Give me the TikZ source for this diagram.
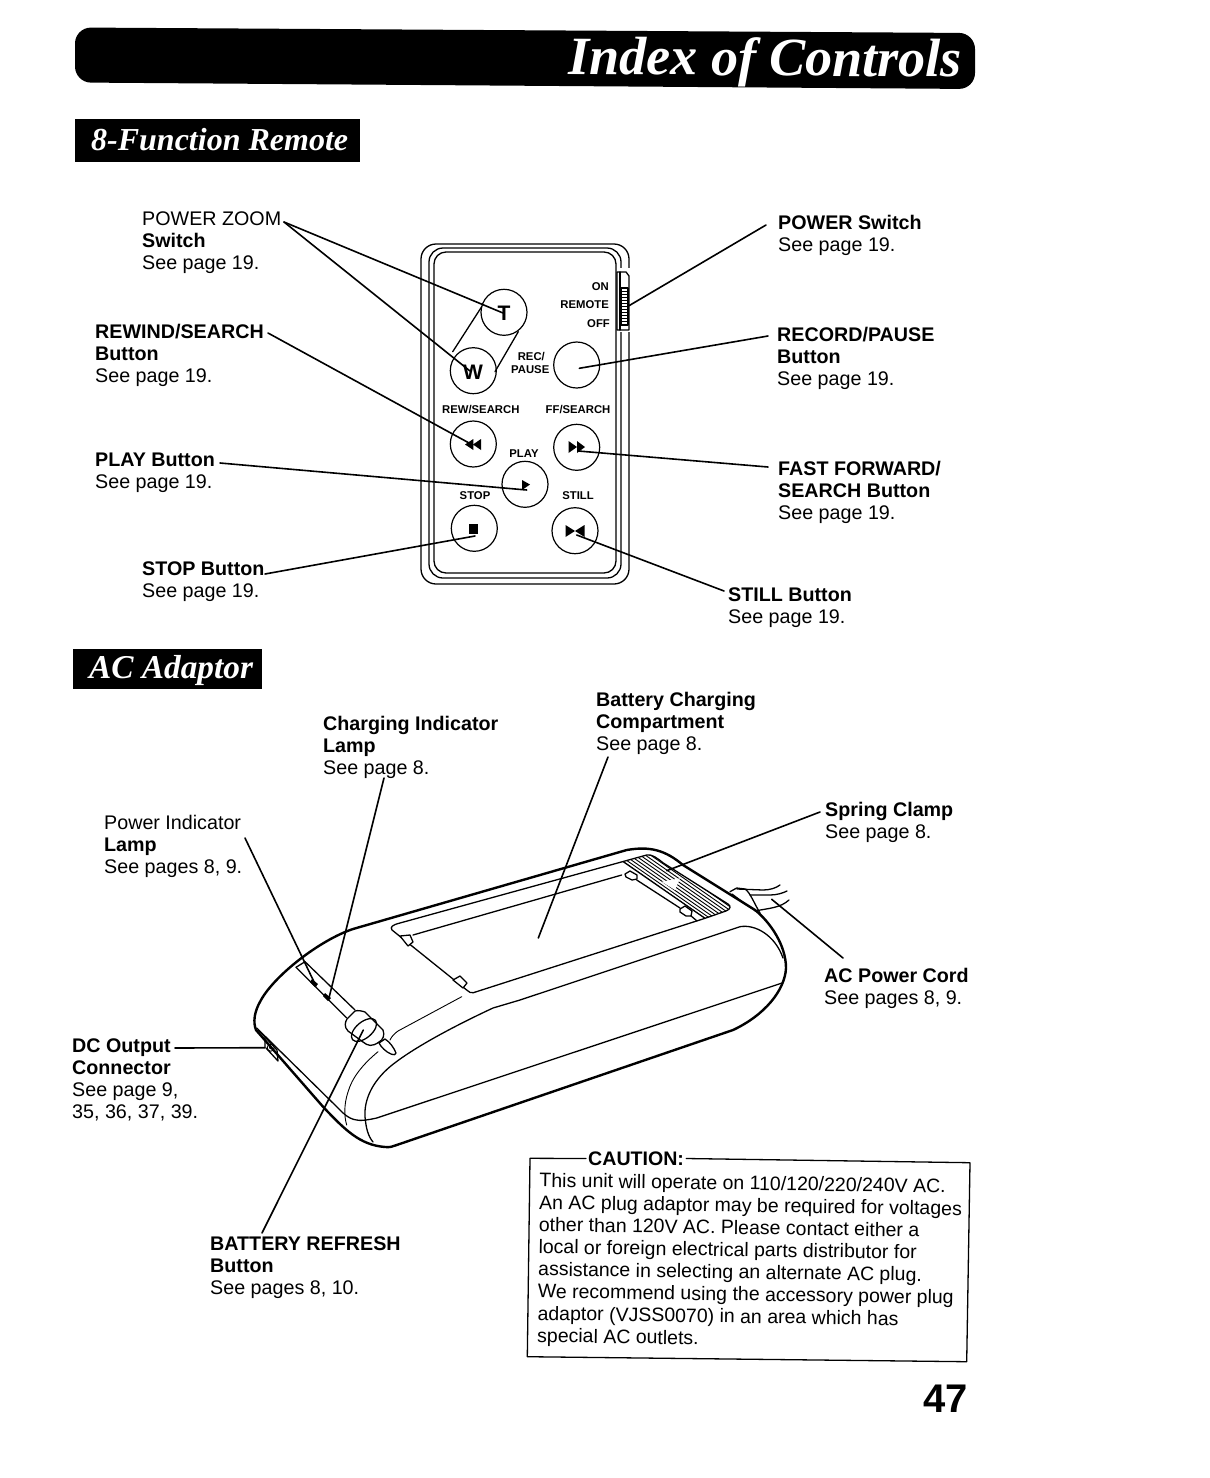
\documentclass[tikz,border=0pt]{standalone}
\usepackage{fontspec}
\setmainfont{Liberation Sans}
\newfontfamily\titlefont{Liberation Serif}
\tikzset{
  lbl/.style={anchor=north west,inner sep=0pt,align=left,font=\fontsize{19.7}{22}\selectfont},
  small/.style={inner sep=0pt,font=\fontsize{11.3}{13}\selectfont\bfseries},
  btn/.style={circle,draw,line width=1.2pt,minimum size=46pt,inner sep=0pt},
  glyph/.style={font=\fontsize{21}{21}\selectfont\bfseries},
  leader/.style={line width=1.6pt},
  thickl/.style={line width=2.4pt},
  thinl/.style={line width=1.3pt},
  faint/.style={line width=0.9pt},
  icon/.style={fill=black,draw=none},
  banner/.style={fill=black,draw=none},
  bannertext/.style={text=white,inner sep=0pt,font=\titlefont\fontsize{32}{32}\selectfont\bfseries\itshape}
}
\newcommand{\bb}[1]{\textbf{#1}}
\begin{document}
\begin{tikzpicture}[x=1pt,y=-1pt,line cap=round,line join=round]
\useasboundingbox (0,0) rectangle (1210,1478);
% headings
\fill[banner,rounded corners=16pt] (75,27.5) -- (975,33) -- (975,89) -- (75,82.5) -- cycle;
\node[bannertext,font=\titlefont\fontsize{54}{54}\selectfont\bfseries\itshape,rotate=-0.4,anchor=base east] (title) at (962,77) {Index of Controls};
\fill[banner] (75,119) rectangle (360,162);
\node[bannertext,anchor=base west] (sec1) at (91,150) {8-Function Remote};
\fill[banner] (73,649) rectangle (262,689);
\node[bannertext,font=\titlefont\fontsize{33.3}{33.3}\selectfont\bfseries\itshape,anchor=base west] (sec2) at (89,678) {AC Adaptor};
% remote body
\draw[thinl,rounded corners=15pt] (421,244) rectangle (629,584);
\draw[thinl,rounded corners=14pt] (429,248) rectangle (621,578);
\draw[thinl,rounded corners=12pt] (434,252) rectangle (616,573);
\fill[white] (617,268) rectangle (630,332);
\draw[thinl] (617,272) -- (626,272) -- (629,276) -- (629,330) -- (617,330) -- cycle;
\draw[thinl] (620,272) -- (620,330);
\draw[thinl] (621,288) rectangle (628,325);
\foreach \yy in {291,294,...,324}{\draw[line width=0.9pt] (621,\yy) -- (628,\yy);}
\node[btn] (bT) at (504,312.3) {};
\node[btn] (bW) at (473.3,370.7) {};
\node[btn] (bRec) at (576.7,365) {};
\node[btn] (bRew) at (473.3,444) {};
\node[btn] (bFF) at (576.7,447.3) {};
\node[btn] (bPlay) at (525,484.3) {};
\node[btn] (bStop) at (474.3,528.3) {};
\node[btn] (bStill) at (575,530.7) {};
\draw[thinl] (481.7,306.7) -- (452.7,351.7);
\draw[thinl] (518.3,331.7) -- (495,371.7);
\node[glyph] (gT) at (504,313) {T};
\node[glyph] (gW) at (473,372) {W};
\fill[icon] (465,444.5) -- (473.3,439) -- (473.3,450) -- cycle;
\fill[icon] (473,444.5) -- (481,439) -- (481,450) -- cycle;
\fill[icon] (568.5,441) -- (577,447) -- (568.5,453) -- cycle;
\fill[icon] (577,441) -- (585,447) -- (577,453) -- cycle;
\fill[icon] (522,480) -- (530,484.5) -- (522,490) -- cycle;
\fill[icon] (469.3,524.3) rectangle (478.3,534);
\fill[icon] (565.5,525) -- (575,531) -- (565.5,537) -- cycle;
\fill[icon] (584.5,525) -- (575,531) -- (584.5,537) -- cycle;
\node[small,anchor=east] (tOn) at (609,287) {ON};
\node[small,anchor=east] (tRemote) at (609,305) {REMOTE};
\node[small,anchor=east] (tOff) at (610,324) {OFF};
\node[small,anchor=east] (tRec) at (545,357) {REC/};
\node[small,anchor=east] (tPause) at (549.5,370) {PAUSE};
\node[small,anchor=west] (tRew) at (442,410) {REW/SEARCH};
\node[small,anchor=west] (tFF) at (545.5,410) {FF/SEARCH};
\node[small] (tPlay) at (524,454) {PLAY};
\node[small] (tStop) at (475,496) {STOP};
\node[small] (tStill) at (578,496) {STILL};
% remote labels
\node[lbl] (lPZ) at (142,212) {POWER ZOOM\\\bb{Switch}\\See page 19.};
\node[lbl] (lRew) at (95,324) {\bb{REWIND/SEARCH}\\\bb{Button}\\See page 19.};
\node[lbl] (lPlay) at (95,453) {\bb{PLAY Button}\\See page 19.};
\node[lbl] (lStop) at (142,562) {\bb{STOP Button}\\See page 19.};
\node[lbl] (lPow) at (778,215) {\bb{POWER Switch}\\See page 19.};
\node[lbl] (lRec) at (777,327) {\bb{RECORD/PAUSE}\\\bb{Button}\\See page 19.};
\node[lbl] (lFF) at (778,461) {\bb{FAST FORWARD/}\\\bb{SEARCH Button}\\See page 19.};
\node[lbl] (lStill) at (728,588) {\bb{STILL Button}\\See page 19.};
% remote leaders
\coordinate (cPZ) at (284,222);
\coordinate (eT) at (503,313);
\coordinate (eW) at (470,371);
\coordinate (cRew) at (268,333);
\coordinate (eRew) at (472.7,445);
\coordinate (cPlay) at (220,463);
\coordinate (ePlay) at (526.7,490);
\coordinate (cStop) at (265,574);
\coordinate (eStop) at (475,536);
\coordinate (cPow) at (766,225);
\coordinate (ePow) at (629,305.7);
\coordinate (cRec) at (768,336);
\coordinate (eRec) at (579.3,368.3);
\coordinate (cFF) at (768,467);
\coordinate (eFF) at (578.3,451);
\coordinate (cStill) at (724,591);
\coordinate (eStill) at (576.7,535);
\draw[leader] (cPZ) -- (eT);
\draw[leader] (cPZ) -- (eW);
\draw[leader] (cRew) -- (eRew);
\draw[leader] (cPlay) -- (ePlay);
\draw[leader] (cStop) -- (eStop);
\draw[leader] (cPow) -- (ePow);
\draw[leader] (cRec) -- (eRec);
\draw[leader] (cFF) -- (eFF);
\draw[leader] (cStill) -- (eStill);
% adaptor body
\draw[thickl] (626.7,850) -- (353,929) .. controls (320,940) and (275,975) .. (261,1000) .. controls (254,1012) and (253,1022) .. (256,1030) -- (323,1106.7) .. controls (345,1130) and (360,1145) .. (385,1147) .. controls (390,1147.5) and (393,1146.5) .. (396.7,1145) -- (733,1030) .. controls (765,1015) and (785,990) .. (786,968) .. controls (786,945) and (770,922) .. (755,910) -- (683,865) .. controls (665,850) and (650,846) .. (626.7,850) -- cycle;
% tray
\draw[thinl] (646.7,855) -- (400,923) .. controls (392,925) and (390,927) .. (392,930) -- (466.7,990) .. controls (469,992.5) and (471,993) .. (473.3,992.7) -- (705,918.3) -- (726,911) .. controls (731,909) and (731,906) .. (728,904) -- (663.3,863) .. controls (657,858) and (652,854) .. (646.7,855);
\draw[thinl] (413,935) -- (621.7,875);
\draw[thinl] (636.7,880) -- (680,908);
\draw[thinl] (690,915) -- (697,921);
\begin{scope}
\clip (623,861.5) -- (646.7,855) .. controls (652,854) and (657,858) .. (663.3,863) -- (728,904) .. controls (731,906) and (731,909) .. (726,911) -- (705,918.3) -- cycle;
\foreach \k in {0,3,...,30}{
  \pgfmathsetmacro{\ax}{623+0.57*\k-16.4}
  \pgfmathsetmacro{\ay}{861.5-0.82*\k-11.4}
  \pgfmathsetmacro{\bx}{623+0.57*\k+123}
  \pgfmathsetmacro{\by}{861.5-0.82*\k+85.5}
  \draw[line width=0.9pt] (\ax,\ay) -- (\bx,\by);
}
\end{scope}
\draw[thinl] (623,861.5) -- (705,918.3);
\fill[white] (661.7,881.7) -- (680,878.3) -- (675,890) -- cycle;
\draw[thinl,fill=white] (625,874) -- (630,871) -- (637,875) -- (637,879) -- (632,880) -- (626,877) -- cycle;
\draw[thinl,fill=white] (680,909) -- (685,906) -- (692,911) -- (691,916) -- (686,916) -- (680,912) -- cycle;
\draw[thinl,fill=white] (400,936) -- (410,935) -- (413,942) -- (408,946) -- cycle;
\draw[thinl,fill=white] (453,980) -- (460,976) -- (467,983) -- (463,988) -- cycle;
% body inner contours
\draw[thinl] (783,958) .. controls (775,935) and (755,924) .. (740,926.7) -- (520,1000) -- (493,1008) .. controls (450,1028) and (410,1050) .. (390,1066.7) .. controls (372,1082) and (364,1100) .. (365,1116.7) .. controls (366,1128) and (368,1136) .. (373,1142);
\draw[thinl] (783,982.7) -- (376.7,1118) .. controls (368,1120) and (360,1121) .. (356.7,1120) .. controls (348,1119) and (342,1112) .. (336.7,1106.7) -- (256.7,1028);
\draw[faint] (461.7,996.7) -- (398,1031) .. controls (394,1034) and (392,1036) .. (390,1040);
\draw[faint] (378,1051.7) .. controls (362,1065) and (352,1078) .. (348,1092) .. controls (344,1104) and (344,1116) .. (346.7,1125);
% slot and battery refresh button
\draw[thinl] (305,961.7) -- (355,1010);
\draw[thinl] (296,967.3) -- (346.7,1018);
\draw[thinl] (296,967.3) -- (305,961.7);
\fill (312,979) -- (318,984) -- (315,987) -- (310,982) -- cycle;
\fill (325,993) -- (331,998) -- (328,1001) -- (323,996) -- cycle;
\draw[thinl,fill=white] (355,1011) .. controls (358,1010) and (362,1011) .. (365,1012) -- (383,1030) .. controls (385,1035) and (383,1040) .. (379,1042) .. controls (372,1047) and (368,1046) .. (363,1042) -- (348,1031) .. controls (344,1027) and (345,1022) .. (347,1019) -- cycle;
\draw[thinl,rotate around={40:(364,1030)}] (364,1030) ellipse (15pt and 8pt);
\draw[thinl,fill=white] (379,1043) -- (385,1039) .. controls (390,1042) and (394,1048) .. (396,1053) .. controls (396,1055) and (394,1055) .. (391,1054) .. controls (386,1052) and (381,1047) .. (379,1043) -- cycle;
% DC connector
\draw[thinl] (258,1030) -- (265,1037) -- (265,1047);
\draw[thinl] (265,1037) -- (277,1050) -- (278,1061) -- (266,1048);
\node[circle,draw,line width=0.9pt,minimum size=7pt,inner sep=0pt] (jack) at (270.7,1047.7) {};
\node[circle,draw,line width=0.7pt,minimum size=2.5pt,inner sep=0pt] (jackpin) at (270.7,1047.7) {};
% cord
\draw[thinl] (730,891.7) -- (736.7,888) -- (745,889) .. controls (750,892) and (755,905) .. (760,913);
\draw[thinl] (732,894) -- (745,904) -- (756,911);
\draw[thinl] (737,889) -- (763,890) .. controls (770,890) and (776,888) .. (780,885);
\draw[thinl] (750,895) -- (770,895) .. controls (777,895) and (783,893) .. (787,891);
\draw[thinl] (755,911) .. controls (770,908) and (780,908) .. (789,900);
% adaptor labels
\node[lbl] (lChg) at (323,716) {\bb{Charging Indicator}\\\bb{Lamp}\\See page 8.};
\node[lbl] (lBat) at (596,692) {\bb{Battery Charging}\\\bb{Compartment}\\See page 8.};
\node[lbl] (lPwr) at (104,815) {Power Indicator\\\bb{Lamp}\\See pages 8, 9.};
\node[lbl] (lSpr) at (825,802) {\bb{Spring Clamp}\\See page 8.};
\node[lbl] (lAC) at (824,968) {\bb{AC Power Cord}\\See pages 8, 9.};
\node[lbl] (lDC) at (72,1039) {\bb{DC Output}\\\bb{Connector}\\See page 9,\\35, 36, 37, 39.};
\node[lbl] (lRef) at (210,1237) {\bb{BATTERY REFRESH}\\\bb{Button}\\See pages 8, 10.};
% adaptor leaders
\coordinate (cPwr) at (245,838);
\coordinate (ePwr) at (316,986);
\coordinate (cChg) at (384,778);
\coordinate (eChg) at (329.3,996.7);
\coordinate (cBat) at (608,757);
\coordinate (eBat) at (538.3,938);
\coordinate (cSpr) at (820,812);
\coordinate (eSpr) at (666.7,870.7);
\coordinate (cAC) at (843,958);
\coordinate (eAC) at (771.7,899.3);
\coordinate (cDC) at (175,1048);
\coordinate (eDC) at (265,1047.7);
\coordinate (cRef) at (262,1233);
\coordinate (eRef) at (363.3,1030);
\draw[leader] (cPwr) -- (ePwr);
\draw[leader] (cChg) -- (eChg);
\draw[leader] (cBat) -- (eBat);
\draw[leader] (cSpr) -- (eSpr);
\draw[leader] (cAC) -- (eAC);
\draw[leader] (cDC) -- (eDC);
\draw[leader] (cRef) -- (eRef);
% caution box
\node[inner sep=0pt,font=\fontsize{19.6}{22}\selectfont\bfseries,anchor=west] (caut) at (588,1158.5) {CAUTION:};
\coordinate (boxTL) at (530,1158.3);
\coordinate (boxBL) at (527.3,1356.7);
\coordinate (boxBR) at (966.7,1361.7);
\coordinate (boxTR) at (970,1162.7);
\draw[thinl] (caut.west) ++(-2,0) -- (boxTL) -- (boxBL) -- (boxBR) -- (boxTR) -- ([xshift=2pt]caut.east);
\node[anchor=north west,inner sep=0pt,align=left,rotate=-0.85,font=\fontsize{19.5}{22.2}\selectfont] (cautText) at (539.5,1172.5) {This unit will operate on 110/120/220/240V AC.\\An AC plug adaptor may be required for voltages\\other than 120V AC. Please contact either a\\local or foreign electrical parts distributor for\\assistance in selecting an alternate AC plug.\\We recommend using the accessory power plug\\adaptor (VJSS0070) in an area which has\\special AC outlets.};
\node[inner sep=0pt,anchor=base east,font=\fontsize{40}{40}\selectfont\bfseries] (pageno) at (968,1412) {47};
\end{tikzpicture}
\end{document}
